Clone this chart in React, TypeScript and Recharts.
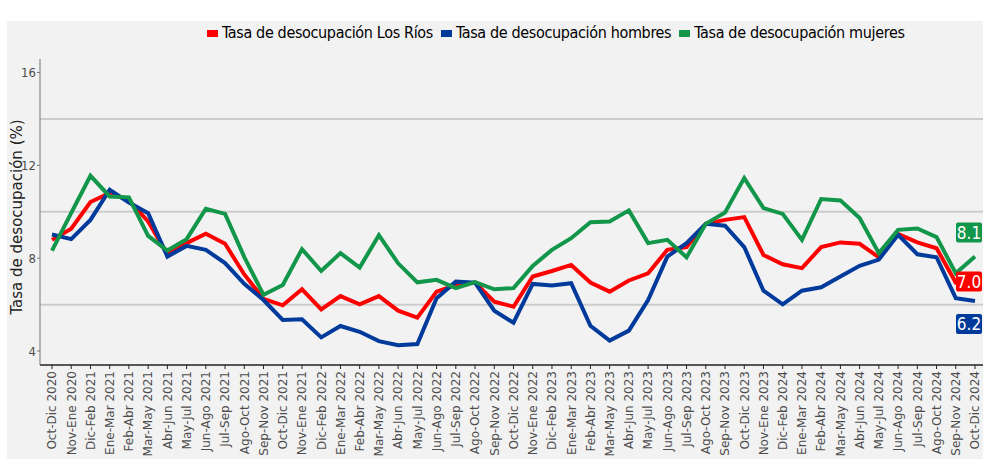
import React from "react";
import { LineChart, Line, XAxis, YAxis, ReferenceLine } from "recharts";

const periodos = [
  "Oct-Dic 2020", "Nov-Ene 2020", "Dic-Feb 2021", "Ene-Mar 2021", "Feb-Abr 2021", "Mar-May 2021",
  "Abr-Jun 2021", "May-Jul 2021", "Jun-Ago 2021", "Jul-Sep 2021", "Ago-Oct 2021", "Sep-Nov 2021",
  "Oct-Dic 2021", "Nov-Ene 2021", "Dic-Feb 2022", "Ene-Mar 2022", "Feb-Abr 2022", "Mar-May 2022",
  "Abr-Jun 2022", "May-Jul 2022", "Jun-Ago 2022", "Jul-Sep 2022", "Ago-Oct 2022", "Sep-Nov 2022",
  "Oct-Dic 2022", "Nov-Ene 2022", "Dic-Feb 2023", "Ene-Mar 2023", "Feb-Abr 2023", "Mar-May 2023",
  "Abr-Jun 2023", "May-Jul 2023", "Jun-Ago 2023", "Jul-Sep 2023", "Ago-Oct 2023", "Sep-Nov 2023",
  "Oct-Dic 2023", "Nov-Ene 2023", "Dic-Feb 2024", "Ene-Mar 2024", "Feb-Abr 2024", "Mar-May 2024",
  "Abr-Jun 2024", "May-Jul 2024", "Jun-Ago 2024", "Jul-Sep 2024", "Ago-Oct 2024", "Sep-Nov 2024",
  "Oct-Dic 2024",
];

const losRios = [
  8.79, 9.27, 10.42, 10.81, 10.49, 9.58, 8.17, 8.65, 9.05, 8.62, 7.3, 6.25,
  5.97, 6.66, 5.8, 6.37, 6.01, 6.37, 5.74, 5.44, 6.56, 6.85, 6.95, 6.13,
  5.91, 7.21, 7.45, 7.71, 6.95, 6.56, 7.04, 7.35, 8.36, 8.48, 9.48, 9.65,
  9.77, 8.14, 7.74, 7.57, 8.48, 8.68, 8.62, 8.04, 9.05, 8.68, 8.43, 6.95,
  7.0,
];

const hombres = [
  9.02, 8.82, 9.65, 10.95, 10.4, 9.94, 8.07, 8.53, 8.36, 7.79, 6.9, 6.2,
  5.34, 5.37, 4.59, 5.08, 4.83, 4.43, 4.25, 4.3, 6.28, 6.99, 6.95, 5.74,
  5.22, 6.89, 6.82, 6.92, 5.09, 4.45, 4.88, 6.2, 8.07, 8.65, 9.48, 9.4,
  8.48, 6.6, 6.01, 6.6, 6.75, 7.21, 7.67, 7.94, 9.01, 8.17, 8.04, 6.28,
  6.16,
];

const mujeres = [
  8.33, 9.95, 11.55, 10.66, 10.62, 8.96, 8.33, 8.82, 10.13, 9.91, 8.05, 6.42,
  6.85, 8.39, 7.45, 8.22, 7.6, 8.99, 7.78, 6.96, 7.07, 6.71, 6.97, 6.66,
  6.71, 7.67, 8.36, 8.86, 9.55, 9.58, 10.06, 8.65, 8.79, 8.04, 9.48, 9.97,
  11.45, 10.16, 9.91, 8.79, 10.55, 10.49, 9.73, 8.22, 9.22, 9.28, 8.91, 7.35,
  8.07,
];

const yTicks = [4, 8, 12, 16];
const gridValues = [6, 10, 14];

const series = [
  { key: "losRios", name: "Tasa de desocupación Los Ríos", color: "#ff0000", labelDy: 0 },
  { key: "hombres", name: "Tasa de desocupación hombres", color: "#003a9b", labelDy: 23 },
  { key: "mujeres", name: "Tasa de desocupación mujeres", color: "#12964a", labelDy: -24 },
];

const data = periodos.map((p, i) => ({
  periodo: p,
  losRios: losRios[i],
  hombres: hombres[i],
  mujeres: mujeres[i],
}));

const narrow = "'Liberation Sans Narrow', 'DejaVu Sans Condensed', sans-serif";
const last = periodos.length - 1;

function XTick({ x, y, payload }: any) {
  return (
    <g transform={`translate(${x},${y})`}>
      <text
        transform="rotate(-90)"
        textAnchor="end"
        dy="0.36em"
        fill="#4d4d4d"
        fontSize={12}
        fontFamily="'DejaVu Sans', sans-serif"
      >
        {payload.value}
      </text>
    </g>
  );
}

function LegendBox() {
  return (
    <div
      style={{
        position: "absolute",
        left: 207,
        top: 22,
        display: "flex",
        alignItems: "center",
        fontFamily: narrow,
        fontSize: 16,
        letterSpacing: "-0.35px",
        lineHeight: "22px",
        color: "#000",
        whiteSpace: "nowrap",
      }}
    >
      {series.map((s) => (
        <div key={s.key} style={{ display: "flex", alignItems: "center", marginRight: 8 }}>
          <span style={{ display: "inline-block", width: 11, height: 7, background: s.color, marginRight: 4 }} />
          <span>{s.name}</span>
        </div>
      ))}
    </div>
  );
}

const endLabel = (color: string, dy: number) => (props: any) => {
  const { cx, cy, index, value } = props;
  if (index !== last || cx == null) return <g key={`e-${index}`} />;
  const w = 26;
  const h = 20;
  const mx = cx - 6;
  const my = cy + dy;
  return (
    <g key={`e-${index}`}>
      <rect x={mx - w / 2} y={my - h / 2} width={w} height={h} rx={2} fill={color} />
      <text x={mx} y={my} dy="0.36em" textAnchor="middle" fill="#fff" fontSize={17} fontFamily={narrow}>
        {Number(value).toFixed(1)}
      </text>
    </g>
  );
};

export default function App() {
  return (
    <div style={{ position: "absolute", left: 0, top: 0, width: 983, height: 459, background: "#fff", overflow: "hidden" }}>
      <div style={{ position: "absolute", left: 7, top: 21, right: 0, bottom: 0, background: "#f2f2f2" }} />
      <LegendBox />
      <div style={{ position: "absolute", left: 0, top: 0 }}>
        <LineChart width={983} height={459} data={data} margin={{ top: 59, right: 0, bottom: 0, left: 0 }}>
          {gridValues.map((v) => (
            <ReferenceLine key={v} y={v} stroke="#cccccc" strokeWidth={2} />
          ))}
          <XAxis
            dataKey="periodo"
            interval={0}
            height={94}
            padding={{ left: 12, right: 8 }}
            tick={<XTick />}
            tickSize={4}
            tickMargin={2}
            stroke="#222"
            axisLine={{ stroke: "#222", strokeWidth: 1.5 }}
          />
          <YAxis
            width={40}
            domain={[3.4, 16.58]}
            ticks={yTicks}
            allowDataOverflow
            tickSize={3}
            tickMargin={1}
            stroke="#777"
            tick={{ fill: "#4d4d4d", fontSize: 13, fontFamily: narrow }}
            label={{
              value: "Tasa de desocupación (%)",
              angle: -90,
              position: "insideLeft",
              dx: 12,
              dy: 5,
              fill: "#222",
              fontSize: 15,
              fontFamily: "'DejaVu Sans', sans-serif",
              style: { textAnchor: "middle" },
            }}
          />
          {series.map((s) => (
            <Line
              key={s.key}
              type="linear"
              dataKey={s.key}
              name={s.name}
              stroke={s.color}
              strokeWidth={4}
              dot={false}
              activeDot={false}
              isAnimationActive={false}
            />
          ))}
          {series.map((s) => (
            <Line
              key={`${s.key}-label`}
              type="linear"
              dataKey={s.key}
              stroke="none"
              legendType="none"
              dot={endLabel(s.color, s.labelDy)}
              activeDot={false}
              isAnimationActive={false}
            />
          ))}
        </LineChart>
      </div>
    </div>
  );
}
